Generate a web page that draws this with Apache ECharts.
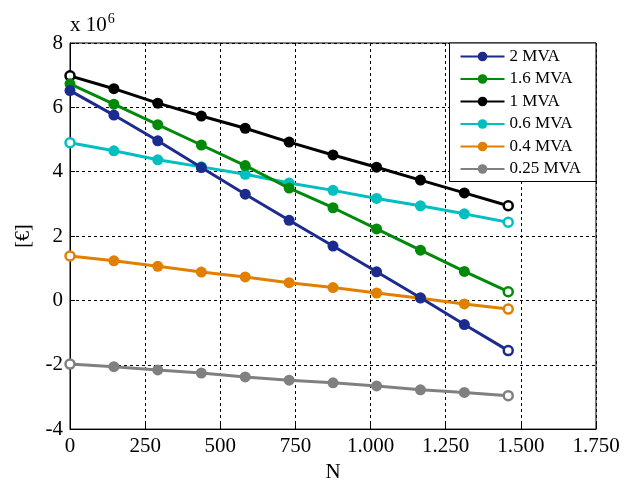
<!DOCTYPE html>
<html>
<head>
<meta charset="utf-8">
<script src="https://cdn.jsdelivr.net/npm/echarts@6/dist/echarts.min.js"></script>
<style>
  html, body { margin: 0; padding: 0; background: #fff; }
  #chart { width: 627px; height: 488px; }
</style>
</head>
<body>
<div id="chart"></div>
<script>
// N values (x axis)
const nValues = [0, 146, 292, 437, 583, 729, 875, 1020, 1166, 1312, 1458];

// series values in € x 10^6
const seriesNames = ['2 MVA', '1.6 MVA', '1 MVA', '0.6 MVA', '0.4 MVA', '0.25 MVA'];
const mva2 = [6.52, 5.76, 4.96, 4.13, 3.30, 2.49, 1.69, 0.89, 0.08, -0.75, -1.56];
const mva16 = [6.73, 6.10, 5.46, 4.83, 4.19, 3.49, 2.88, 2.22, 1.56, 0.90, 0.27];
const mva1 = [6.98, 6.58, 6.13, 5.73, 5.35, 4.92, 4.52, 4.14, 3.74, 3.34, 2.94];
const mva06 = [4.90, 4.65, 4.37, 4.15, 3.92, 3.65, 3.42, 3.17, 2.94, 2.69, 2.43];
const mva04 = [1.38, 1.23, 1.06, 0.88, 0.73, 0.55, 0.40, 0.23, 0.07, -0.11, -0.27];
const mva025 = [-1.98, -2.06, -2.16, -2.26, -2.38, -2.48, -2.56, -2.66, -2.78, -2.86, -2.96];

const xTicks = ['0', '250', '500', '750', '1.000', '1.250', '1.500', '1.750'];

const allValues = [mva2, mva16, mva1, mva06, mva04, mva025];
const colors = ['#1b2b8e', '#008a0a', '#000000', '#00bfbf', '#e07f00', '#808080'];
const openFirst = [false, false, true, true, true, true];

const font = 'Liberation Serif';

let chart = echarts.init(document.getElementById('chart'));

let seriesList = allValues.map((vals, i) => {
  let data = vals.map((v, k) => {
    let pt = { value: [nValues[k], v] };
    if (k === vals.length - 1 || (k === 0 && openFirst[i])) {
      pt.itemStyle = { color: '#fff', borderColor: colors[i], borderWidth: 2.5 };
      pt.symbolSize = 9;
    }
    return pt;
  });
  return {
    name: seriesNames[i],
    type: 'line',
    data: data,
    symbol: 'circle',
    symbolSize: 11,
    showAllSymbol: true,
    lineStyle: { width: 3, color: colors[i] },
    itemStyle: { color: colors[i] },
    emphasis: { disabled: true },
    animation: false,
    z: 10 - i
  };
});

let option = {
  animation: false,
  color: colors,
  grid: {
    left: 70, top: 43, width: 526, height: 398,
    show: true, borderColor: '#000', borderWidth: 1, backgroundColor: 'transparent'
  },
  legend: {
    orient: 'vertical',
    right: 31, top: 43,
    itemWidth: 44, itemHeight: 12, itemGap: 5.5,
    padding: [5, 15, 4, 10],
    backgroundColor: '#fff',
    borderColor: '#000', borderWidth: 1,
    textStyle: { fontFamily: font, fontSize: 17, color: '#000' },
    data: seriesNames
  },
  graphic: [{
    type: 'text',
    left: 70, top: 12,
    style: {
      text: 'x 10{sup|6}',
      fontFamily: font, fontSize: 21, fill: '#000',
      rich: { sup: { fontFamily: font, fontSize: 14, verticalAlign: 'top', padding: [0, 0, 12, 1] } }
    }
  }],
  xAxis: {
    type: 'value',
    min: 0, max: 1750, interval: 250,
    name: 'N', nameLocation: 'middle', nameGap: 30,
    nameTextStyle: { fontFamily: font, fontSize: 21, color: '#000' },
    axisLine: { show: true, onZero: false, lineStyle: { color: '#000', width: 1 } },
    axisTick: { inside: true, length: 5, lineStyle: { color: '#000' } },
    axisLabel: {
      fontFamily: font, fontSize: 21, color: '#000', margin: 7,
      formatter: (v) => xTicks[Math.round(v / 250)]
    },
    splitLine: { show: true, lineStyle: { color: '#000', type: [3, 3], width: 1 } }
  },
  yAxis: {
    type: 'value',
    min: -4, max: 8, interval: 2,
    name: '[€]', nameLocation: 'middle', nameGap: 36, nameRotate: 90,
    nameTextStyle: { fontFamily: font, fontSize: 20, color: '#000' },
    axisLine: { show: true, onZero: false, lineStyle: { color: '#000', width: 1 } },
    axisTick: { inside: true, length: 5, lineStyle: { color: '#000' } },
    axisLabel: { fontFamily: font, fontSize: 21, color: '#000', margin: 7 },
    splitLine: { show: true, lineStyle: { color: '#000', type: [3, 3], width: 1 } }
  },
  series: seriesList
};

chart.setOption(option);
</script>
</body>
</html>
